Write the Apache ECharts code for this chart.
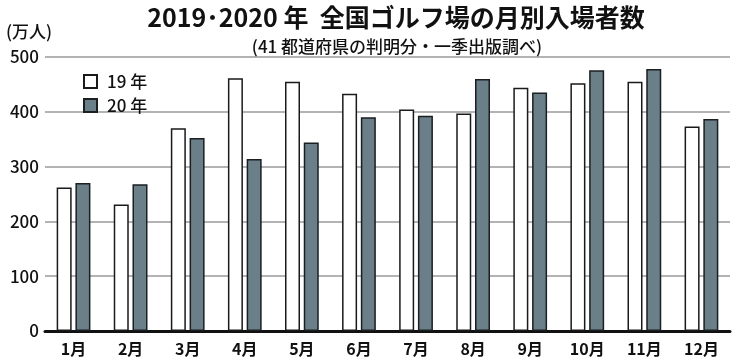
<!DOCTYPE html>
<html><head><meta charset="utf-8">
<script src="https://cdn.jsdelivr.net/npm/echarts@6/dist/echarts.min.js"></script>
<style>html,body{margin:0;padding:0;background:#fff}#c{width:736px;height:362px}</style>
</head><body><div id="c"></div>
<script>
const categories = ['1月','2月','3月','4月','5月','6月','7月','8月','9月','10月','11月','12月'];
const values2019 = [262, 231, 370, 461, 455, 433, 404, 397, 444, 452, 455, 373];
const values2020 = [270, 268, 352, 314, 344, 390, 393, 460, 435, 476, 478, 387];
const yTicks = [0, 100, 200, 300, 400, 500];
const seriesNames = ['19 年', '20 年'];

const FONT = '"Noto Sans CJK JP", "Noto Sans", sans-serif';
const chart = echarts.init(document.getElementById('c'), null, {renderer: 'canvas'});
chart.setOption({
  animation: false,
  backgroundColor: '#fff',
  title: [
    {text: '2019･2020 年  全国ゴルフ場の月別入場者数', left: 391, top: 0, textAlign: 'center',
     textStyle: {fontFamily: FONT, fontSize: 25, fontWeight: 'bold', color: '#111'}},
    {text: '(41 都道府県の判明分・一季出版調べ)', left: 392, top: 33, textAlign: 'center',
     textStyle: {fontFamily: FONT, fontSize: 17, fontWeight: 500, color: '#111'}},
    {text: '(万人)', left: 1, top: 18,
     textStyle: {fontFamily: FONT, fontSize: 17, fontWeight: 500, color: '#111'}}
  ],
  legend: {
    orient: 'vertical', left: 78, top: 68, itemWidth: 13, itemHeight: 13, itemGap: 7,
    icon: 'rect',
    textStyle: {fontFamily: FONT, fontSize: 17, fontWeight: 500, color: '#111', padding: [0, 0, 0, 5]},
    data: seriesNames
  },
  grid: {left: 45, right: 6, top: 57, bottom: 31},
  xAxis: {
    type: 'category', data: categories,
    axisLine: {lineStyle: {color: '#111', width: 3}},
    axisTick: {show: false},
    axisLabel: {fontFamily: FONT, fontSize: 16, fontWeight: 'bold', color: '#111', margin: 10}
  },
  yAxis: {
    type: 'value', min: yTicks[0], max: yTicks[yTicks.length - 1], interval: 100,
    axisLine: {show: false}, axisTick: {show: false},
    axisLabel: {fontFamily: FONT, fontSize: 17, fontWeight: 500, color: '#111', margin: 6},
    splitLine: {lineStyle: {color: '#9a9a9a', width: 1.5}}
  },
  series: [
    {name: seriesNames[0], type: 'bar', data: values2019, barWidth: 15, barGap: '25%',
     itemStyle: {color: '#ffffff', borderColor: '#1a1a1a', borderWidth: 1.5}},
    {name: seriesNames[1], type: 'bar', data: values2020, barWidth: 15,
     itemStyle: {color: '#6a7f87', borderColor: '#1a1f22', borderWidth: 1.5}}
  ]
});
</script></body></html>
